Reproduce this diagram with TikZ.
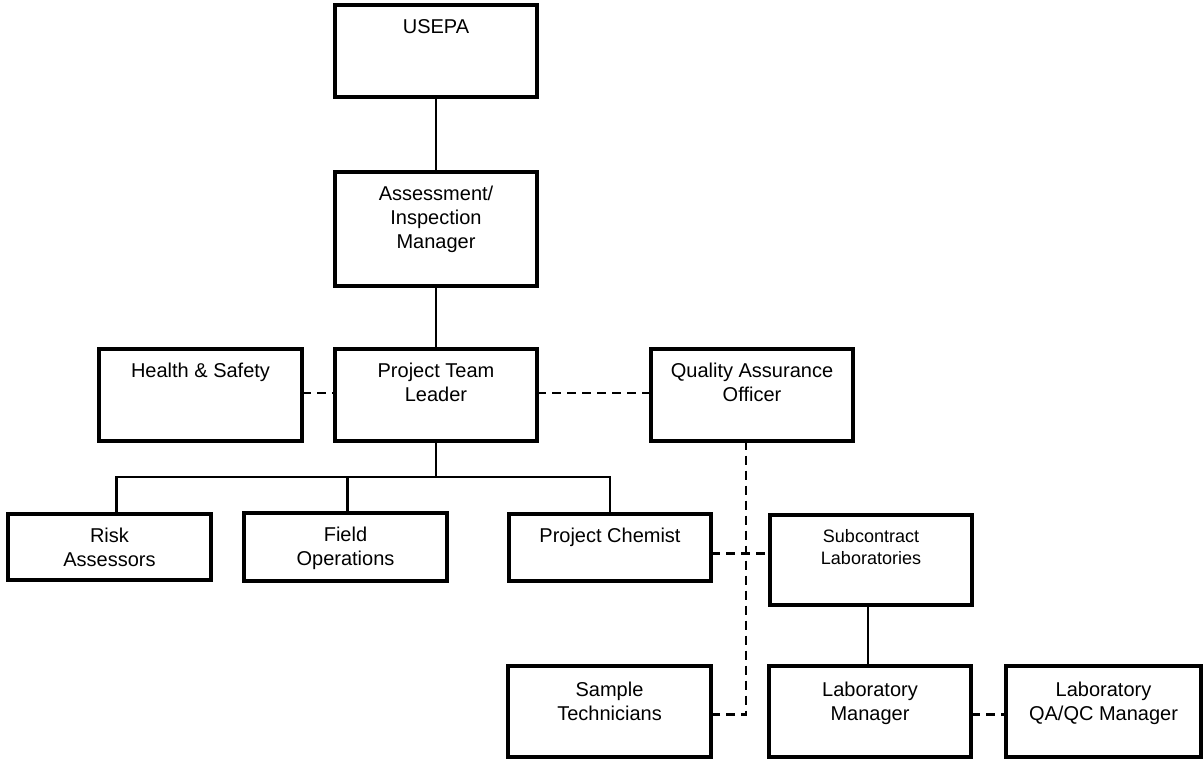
\documentclass[tikz,border=0pt]{standalone}
\usepackage{fontspec}
\setmainfont{Liberation Sans}
\usepackage{tikz}

\begin{document}
\begin{tikzpicture}[x=1pt,y=1pt]
\tikzstyle{box}=[draw=black, line width=4pt, rectangle, minimum width=202pt, minimum height=92pt, inner sep=0pt, outer sep=0pt]
\tikzstyle{boxtext}=[anchor=north, yshift=-14pt, inner sep=0pt, align=center, font=\fontsize{20}{24}\selectfont]
\tikzstyle{link}=[black, line width=2.5pt]
\tikzstyle{dashlink}=[black, line width=2.5pt, dash pattern=on 9pt off 6pt]
\useasboundingbox (0,0) rectangle (1204,-759);
% top of the chain
\node [box, label={[boxtext]north:USEPA}] (usepa) at (436,-51) {};
\node [box, minimum height=114pt, label={[boxtext]north:Assessment/\\Inspection\\Manager}] (aim) at (436,-229) {};
% middle row
\node [box, minimum width=203pt, label={[boxtext]north:Health \& Safety}] (hs) at (200.5,-395) {};
\node [box, label={[boxtext]north:Project Team\\Leader}] (ptl) at (436,-395) {};
\node [box, label={[boxtext]north:Quality Assurance\\Officer}] (qao) at (752,-394.5) {};
% staff row
\node [box, minimum width=203pt, minimum height=66pt, label={[boxtext]north:Risk\\Assessors}] (risk) at (109.5,-547) {};
\node [box, minimum width=203pt, minimum height=68pt, label={[boxtext]north:Field\\Operations}] (field) at (345.5,-547) {};
\node [box, minimum height=67pt, label={[boxtext]north:Project Chemist}] (chem) at (610,-547.5) {};
\node [box, minimum height=90pt, label={[boxtext, font=\fontsize{18}{22}\selectfont]north:Subcontract\\Laboratories}] (sub) at (871,-560) {};
% bottom row
\node [box, minimum width=203pt, minimum height=91pt, label={[boxtext, yshift=-2pt]north:Sample\\Technicians}] (samp) at (609.5,-711.5) {};
\node [box, minimum height=91pt, label={[boxtext, yshift=-2pt]north:Laboratory\\Manager}] (labm) at (870,-711.5) {};
\node [box, minimum width=195pt, minimum height=91pt, label={[boxtext, yshift=-2pt]north:Laboratory\\QA/QC Manager}] (labqa) at (1103.5,-711.5) {};
% solid lines
\coordinate (bus) at (436,-477);
\draw [link] (usepa) -- (aim);
\draw [link] (aim) -- (ptl);
\draw [link] (ptl) -- (bus);
\draw [link] ([xshift=7pt]risk.north) |- (bus) -| (chem.north);
\draw [link] ([xshift=2pt]field.north) -- ([xshift=2pt]field.north |- bus);
\draw [link] ([xshift=-3pt]sub.south) -- ([xshift=-2pt]labm.north);
% dashed lines
\draw [dashlink] ([yshift=2pt]hs.east) -- ([yshift=2pt]ptl.west);
\draw [dashlink] ([yshift=2pt]ptl.east) -- ([yshift=2pt]ptl.east -| qao.west);
\draw [dashlink] ([xshift=-6pt]qao.south) |- ([yshift=-3pt]samp.east);
\draw [dashlink] ([yshift=-6pt]chem.east) -- ([yshift=-6pt]chem.east -| sub.west);
\draw [dashlink] ([yshift=-3pt]labm.east) -- ([yshift=-3pt]labm.east -| labqa.west);
\end{tikzpicture}
\end{document}
